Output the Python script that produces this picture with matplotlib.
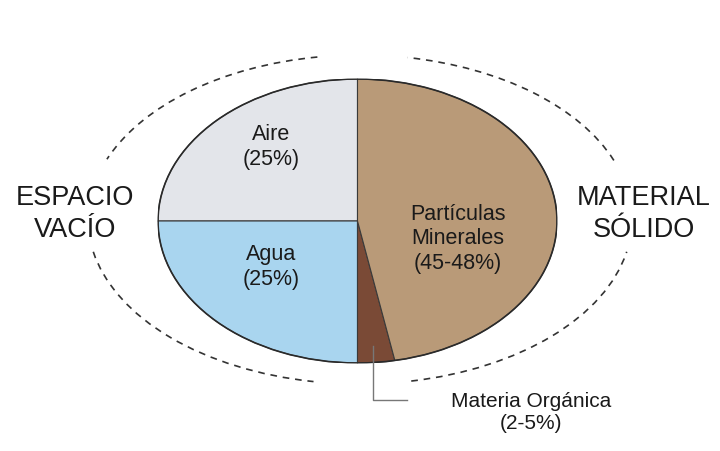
import matplotlib.pyplot as plt
from matplotlib.patches import Arc

# composición del suelo (% del volumen)
componentes = ['Aire', 'Agua', 'Materia Orgánica', 'Partículas Minerales']
porcentajes = [25, 25, 3, 47]
etiquetas = ['Aire\n(25%)', 'Agua\n(25%)', 'Materia Orgánica\n(2-5%)',
             'Partículas\nMinerales\n(45-48%)']
colores = ['#e3e5ea', '#a9d5ef', '#7a4a36', '#b99a78']

W, H = 720, 452


def py(y):
    # coordenadas de imagen (y hacia abajo) -> coordenadas del eje
    return H - y


def main():
    plt.rcParams['font.family'] = ['Liberation Sans', 'DejaVu Sans']
    fig = plt.figure(figsize=(W / 100, H / 100), dpi=100)
    fig.patch.set_facecolor('white')

    # pastel estirado en forma de elipse
    x0, x1, y0, y1 = 158, 557, 80, 364
    ax = fig.add_axes([x0 / W, (H - y1) / H, (x1 - x0) / W, (y1 - y0) / H])
    ax.pie(porcentajes, colors=colores, startangle=90, counterclock=True,
           wedgeprops={'edgecolor': '#3a3a3a', 'linewidth': 0.8})
    ax.set_aspect('auto')
    ax.set_xlim(-1.0, 1.0)
    ax.set_ylim(-1.0, 1.0)
    ax.axis('off')
    borde = Arc((0, 0), 2.0, 2.0, theta1=0, theta2=360, color='#2a2a2a',
                linewidth=1.2)
    ax.add_patch(borde)
    ax.set_zorder(1)

    # capa superior en pixeles para arcos, textos y lineas
    base = fig.add_axes([0, 0, 1, 1])
    base.set_xlim(0, W)
    base.set_ylim(0, H)
    base.axis('off')
    base.patch.set_alpha(0)
    base.set_zorder(2)

    # arcos punteados alrededor
    cx, cy, aw, ah = 360, 220.5, 544, 329
    for t1, t2 in [(104.7, 166.6), (186.9, 254), (13.1, 73.6),
                   (287.6, 353.1)]:
        arco = Arc((cx, py(cy)), aw, ah, theta1=t1, theta2=t2,
                   color='#333333', linewidth=1.2, linestyle=(0, (4, 3.5)))
        base.add_patch(arco)

    # linea guia de materia orgánica
    base.plot([373, 373, 407], [py(347), py(401), py(401)],
              color='#777777', linewidth=1.0)

    base.text(75, py(214), 'ESPACIO\nVACÍO', ha='center', va='center',
              fontsize=19.5, color='#1a1a1a', linespacing=1.3)
    base.text(644, py(214), 'MATERIAL\nSÓLIDO', ha='center', va='center',
              fontsize=19.5, color='#1a1a1a', linespacing=1.3)

    pos = [(271, 147, 15.5), (271, 267, 15.5), (531, 413, 15),
           (458, 239, 15.5)]
    for (x, y, fs), txt in zip(pos, etiquetas):
        base.text(x, py(y), txt, ha='center', va='center', fontsize=fs,
                  color='#1a1a1a', linespacing=1.2)

    fig.savefig('out.png', dpi=100, facecolor='white')


if __name__ == '__main__':
    main()
